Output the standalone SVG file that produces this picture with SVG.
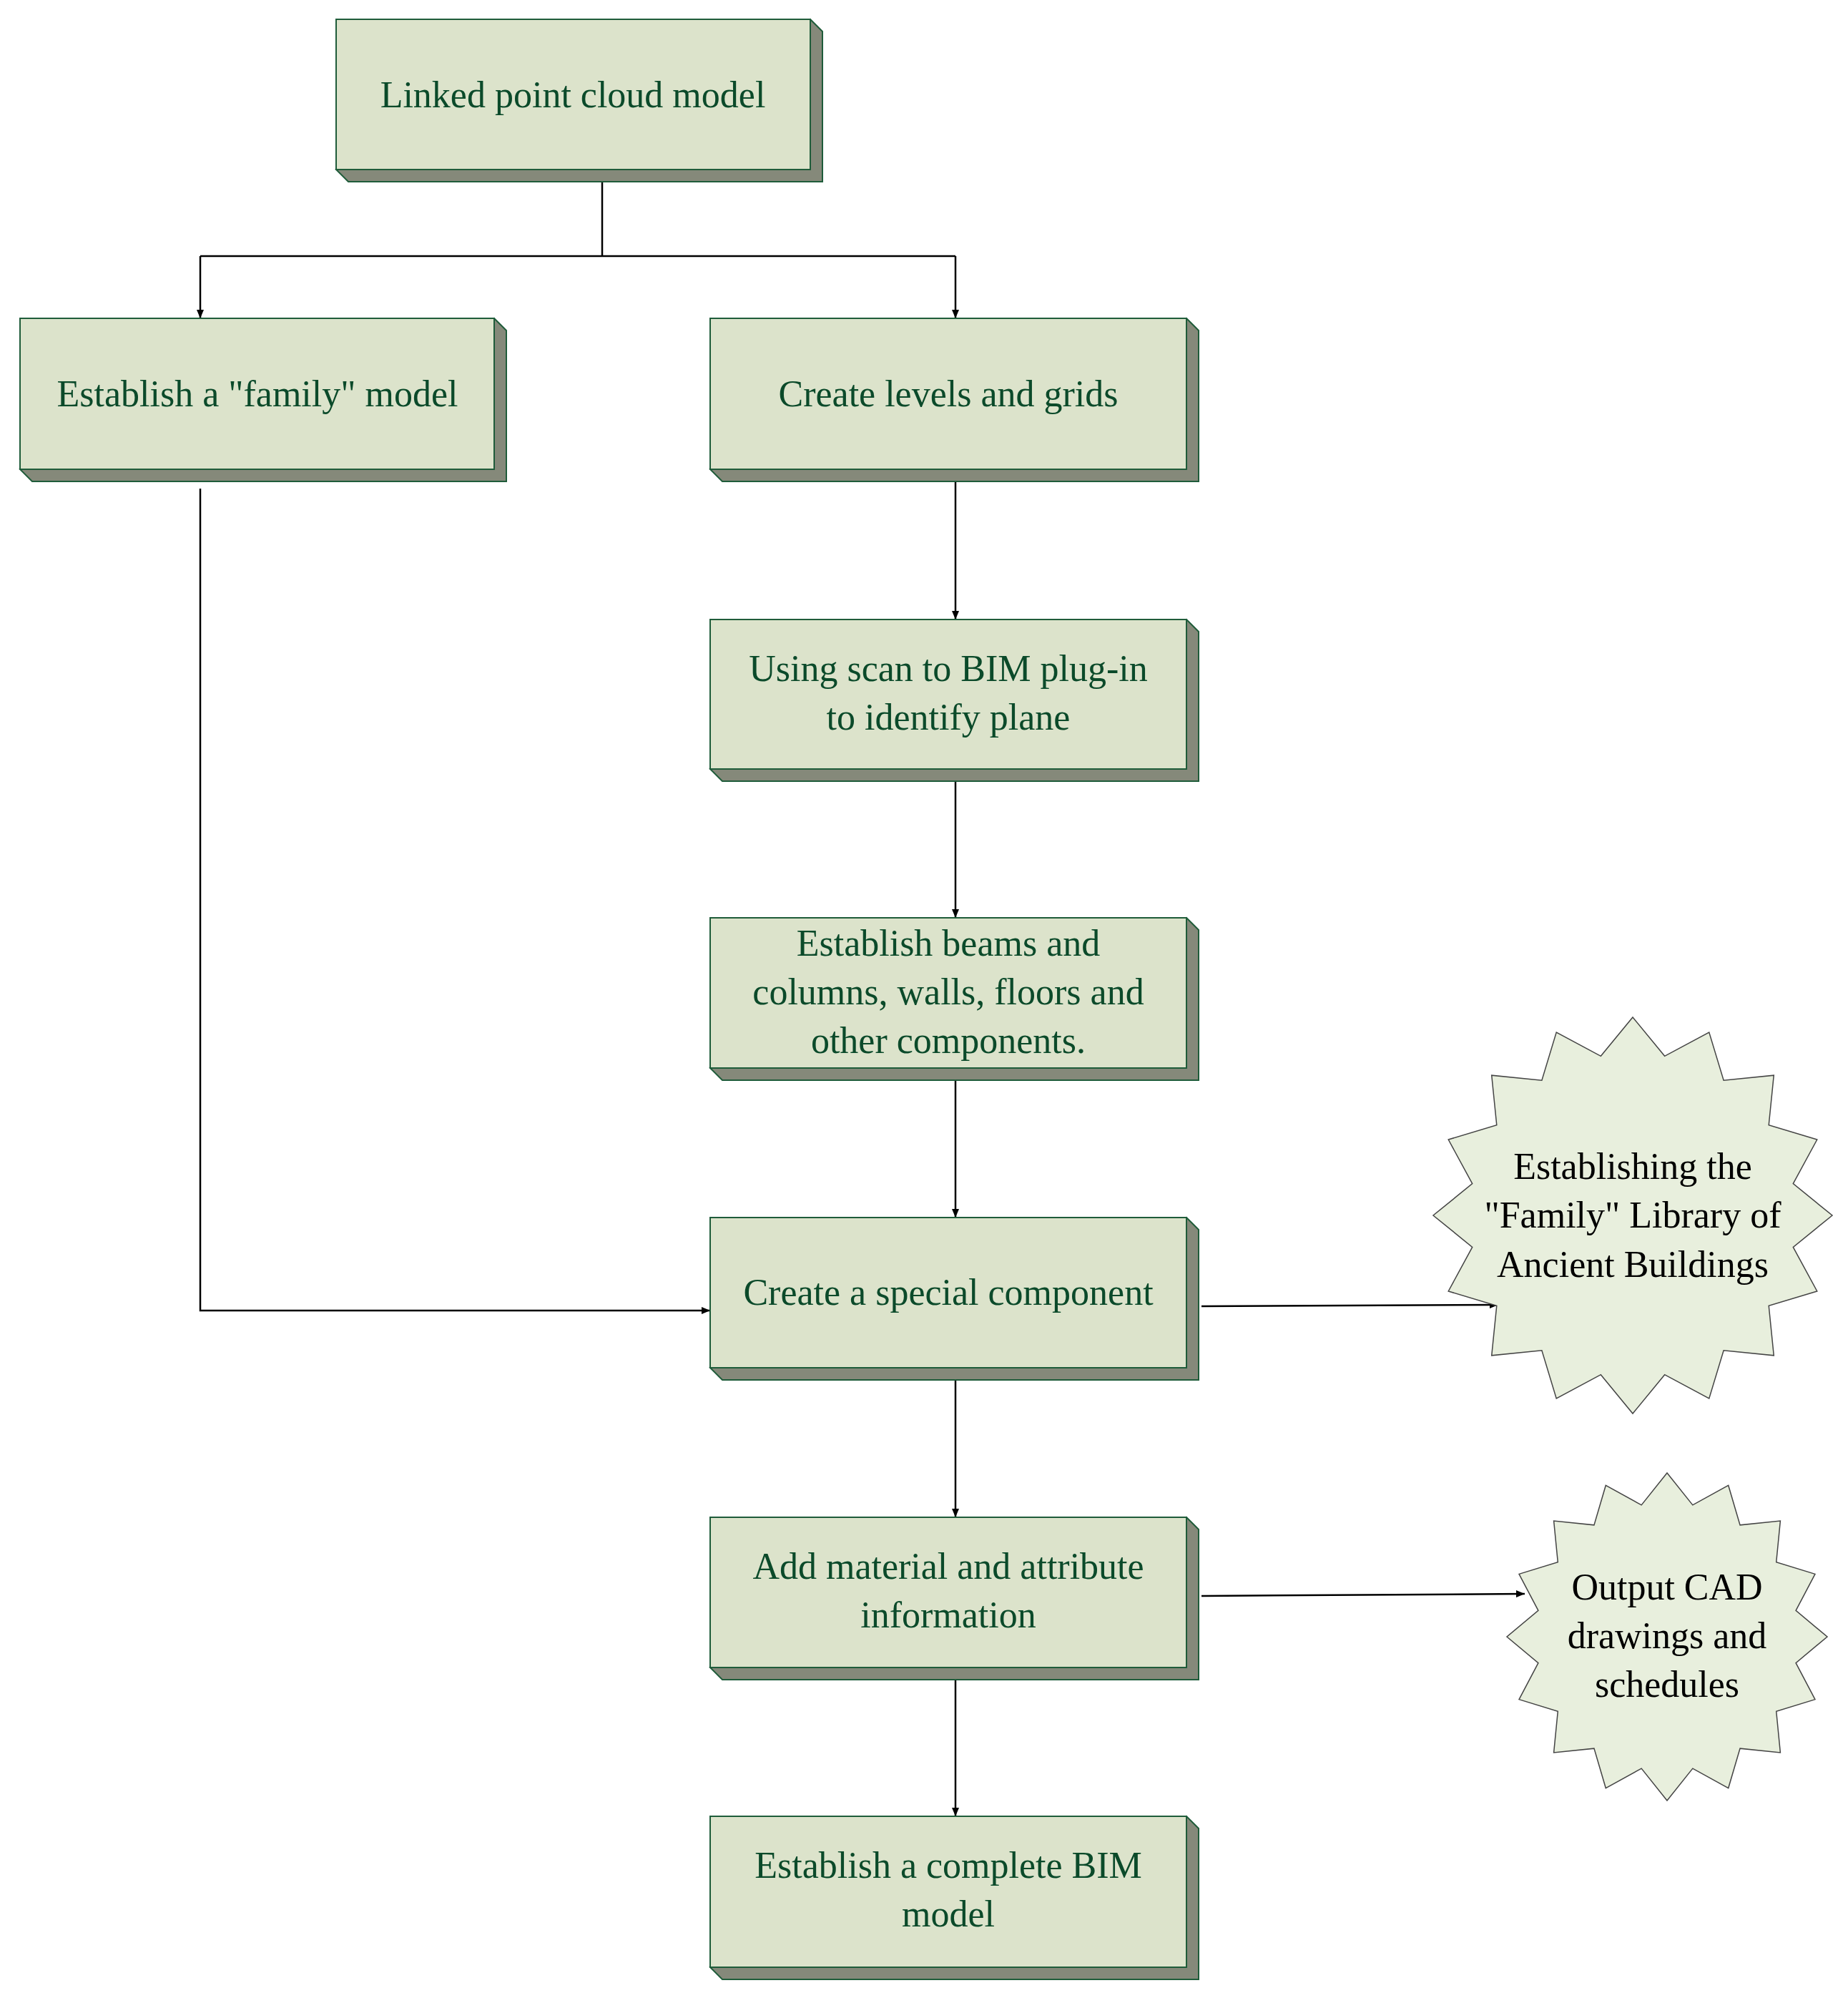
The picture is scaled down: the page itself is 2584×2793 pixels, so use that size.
<svg xmlns="http://www.w3.org/2000/svg" width="2584" height="2793" viewBox="0 0 2584 2793">
<style>
.f{fill:#dce3cb;stroke:#1f5c3a;stroke-width:2}
.s{fill:#85897a;stroke:#1f5c3a;stroke-width:2}
.t{font-family:"Liberation Serif",serif;font-size:52px;fill:#0b4a2a;text-anchor:middle}
.k{font-family:"Liberation Serif",serif;font-size:52px;fill:#000;text-anchor:middle}
.c{fill:none;stroke:#000;stroke-width:2.5}
.st{fill:#e8efdd;stroke:#444;stroke-width:1.5}
</style>
<defs>
<marker id="a" markerWidth="12" markerHeight="10" refX="12" refY="5" orient="auto" markerUnits="userSpaceOnUse"><path d="M0,0 L12,5 L0,10 Z" fill="#000"/></marker>
<polygon id="star" vector-effect="non-scaling-stroke" points="0,-1 .16,-.804 .3827,-.9239 .4556,-.6818 .7071,-.7071 .6818,-.4556 .9239,-.3827 .804,-.16 1,0 .804,.16 .9239,.3827 .6818,.4556 .7071,.7071 .4556,.6818 .3827,.9239 .16,.804 0,1 -.16,.804 -.3827,.9239 -.4556,.6818 -.7071,.7071 -.6818,.4556 -.9239,.3827 -.804,.16 -1,0 -.804,-.16 -.9239,-.3827 -.6818,-.4556 -.7071,-.7071 -.4556,-.6818 -.3827,-.9239 -.16,-.804"/>
</defs>
<g id="connectors">
<path class="c" d="M842,254 V358 M280,358 H1336"/>
<path class="c" d="M280,358 V445" marker-end="url(#a)"/>
<path class="c" d="M1336,358 V445" marker-end="url(#a)"/>
<path class="c" d="M1336,673 V866" marker-end="url(#a)"/>
<path class="c" d="M1336,1092 V1283" marker-end="url(#a)"/>
<path class="c" d="M1336,1510 V1702" marker-end="url(#a)"/>
<path class="c" d="M1336,1929 V2121" marker-end="url(#a)"/>
<path class="c" d="M1336,2348 V2539" marker-end="url(#a)"/>
<path class="c" d="M280,683 V1832 H993" marker-end="url(#a)"/>
<path class="c" d="M1680,1826 L2095,1824" marker-end="url(#a)"/>
<path class="c" d="M1680,2231 L2132,2228" marker-end="url(#a)"/>
</g>
<g id="n1"><polygon class="s" points="1133,27 1150,44 1150,254 487,254 470,237"/><rect class="f" x="470" y="27" width="663" height="210"/><text class="t" x="801" y="150">Linked point cloud model</text></g>
<g id="n2"><polygon class="s" points="691,445 708,462 708,673 45,673 28,656"/><rect class="f" x="28" y="445" width="663" height="211"/><text class="t" x="360" y="568">Establish a "family" model</text></g>
<g id="n3"><polygon class="s" points="1659,445 1676,462 1676,673 1010,673 993,656"/><rect class="f" x="993" y="445" width="666" height="211"/><text class="t" x="1326" y="568">Create levels and grids</text></g>
<g id="n4"><polygon class="s" points="1659,866 1676,883 1676,1092 1010,1092 993,1075"/><rect class="f" x="993" y="866" width="666" height="209"/><text class="t" x="1326" y="952">Using scan to BIM plug-in</text><text class="t" x="1326" y="1020">to identify plane</text></g>
<g id="n5"><polygon class="s" points="1659,1283 1676,1300 1676,1510 1010,1510 993,1493"/><rect class="f" x="993" y="1283" width="666" height="210"/><text class="t" x="1326" y="1336">Establish beams and</text><text class="t" x="1326" y="1404">columns, walls, floors and</text><text class="t" x="1326" y="1472">other components.</text></g>
<g id="n6"><polygon class="s" points="1659,1702 1676,1719 1676,1929 1010,1929 993,1912"/><rect class="f" x="993" y="1702" width="666" height="210"/><text class="t" x="1326" y="1824">Create a special component</text></g>
<g id="n7"><polygon class="s" points="1659,2121 1676,2138 1676,2348 1010,2348 993,2331"/><rect class="f" x="993" y="2121" width="666" height="210"/><text class="t" x="1326" y="2207">Add material and attribute</text><text class="t" x="1326" y="2275">information</text></g>
<g id="n8"><polygon class="s" points="1659,2539 1676,2556 1676,2767 1010,2767 993,2750"/><rect class="f" x="993" y="2539" width="666" height="211"/><text class="t" x="1326" y="2625">Establish a complete BIM</text><text class="t" x="1326" y="2693">model</text></g>
<g id="s1"><use href="#star" class="st" transform="translate(2283,1699) scale(279,277)"/><text class="k" x="2283" y="1648">Establishing the</text><text class="k" x="2283" y="1716">"Family" Library of</text><text class="k" x="2283" y="1785">Ancient Buildings</text></g>
<g id="s2"><use href="#star" class="st" transform="translate(2331,2288) scale(224,229)"/><text class="k" x="2331" y="2236">Output CAD</text><text class="k" x="2331" y="2304">drawings and</text><text class="k" x="2331" y="2372">schedules</text></g>
</svg>
